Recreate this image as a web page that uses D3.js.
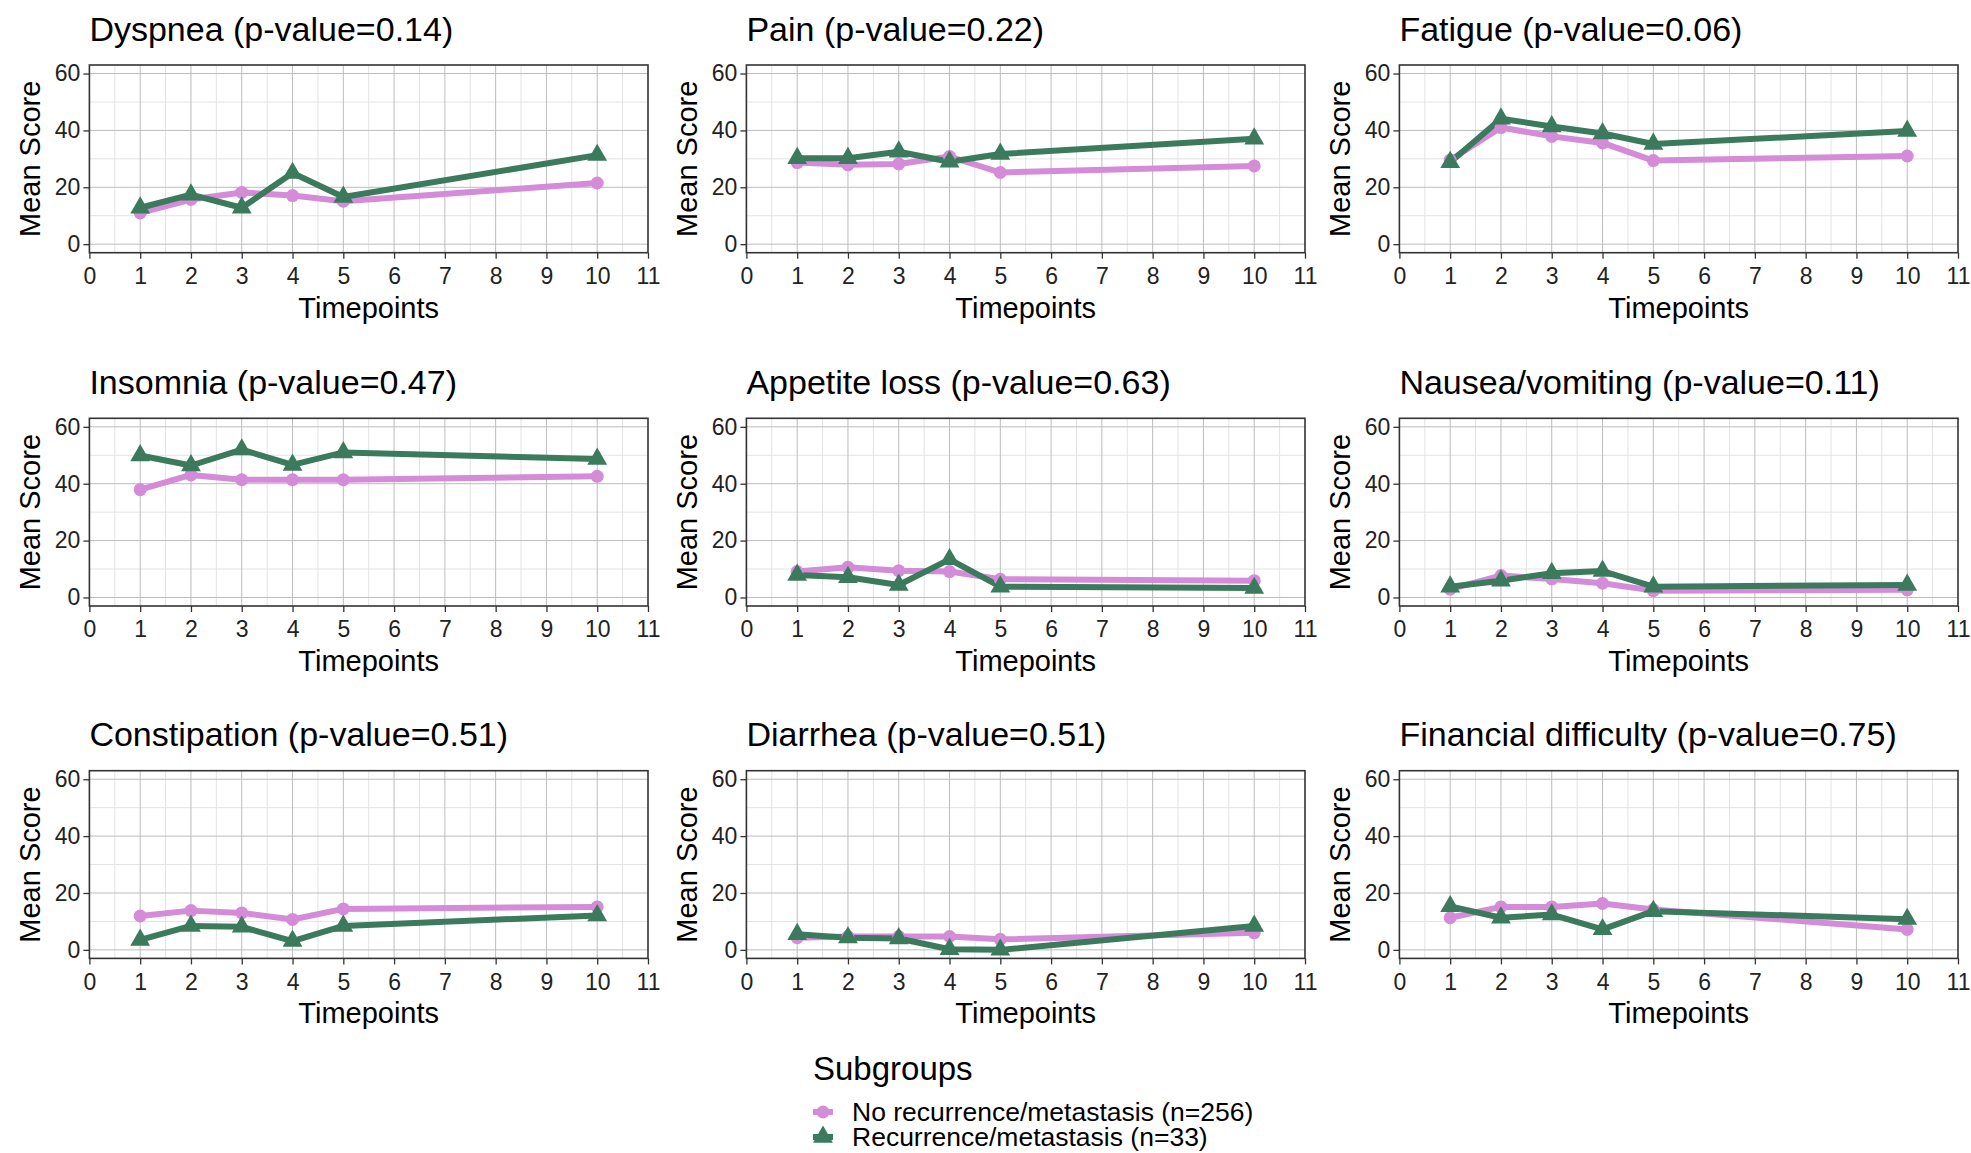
<!DOCTYPE html>
<html>
<head>
<meta charset="utf-8">
<script src="https://cdn.jsdelivr.net/npm/d3@7"></script>
<style>
  body { margin: 0; background: #fff; }
  text { font-family: "Liberation Sans", Arial, sans-serif; }
</style>
</head>
<body>
<div id="chart"></div>
<script>

// timepoints and panels
var timepoints = [1, 2, 3, 4, 5, 10];
var symptoms = ["Dyspnea", "Pain", "Fatigue", "Insomnia", "Appetite loss", "Nausea/vomiting",
                "Constipation", "Diarrhea", "Financial difficulty"];
var pvalues = ["0.14", "0.22", "0.06", "0.47", "0.63", "0.11", "0.51", "0.51", "0.75"];

// mean scores, one row per symptom
var noRecurrence = [
  [11.0, 15.7, 18.2, 17.1, 15.1, 21.5],
  [28.7, 27.9, 28.2, 30.8, 25.2, 27.5],
  [29.6, 41.0, 37.9, 35.6, 29.4, 31.0],
  [37.9, 43.1, 41.4, 41.4, 41.4, 42.6],
  [9.1, 10.6, 9.4, 9.1, 6.4, 5.9],
  [2.9, 7.7, 6.5, 5.0, 2.4, 2.7],
  [11.9, 13.8, 13.0, 10.7, 14.4, 15.1],
  [4.3, 4.7, 4.7, 4.7, 3.7, 6.0],
  [11.3, 15.1, 15.1, 16.3, 14.2, 7.2]
];
var recurrence = [
  [12.8, 17.4, 12.8, 25.0, 16.6, 31.3],
  [30.2, 30.2, 32.5, 29.0, 31.7, 37.1],
  [28.8, 44.1, 41.4, 38.9, 35.2, 39.8],
  [49.9, 46.4, 52.0, 46.6, 51.0, 48.7],
  [7.9, 7.1, 4.4, 13.4, 3.8, 3.3],
  [3.8, 5.9, 8.5, 9.3, 3.8, 4.4],
  [3.5, 8.4, 8.1, 3.1, 8.4, 12.1],
  [5.5, 4.3, 4.0, 0.2, 0.0, 8.4],
  [15.3, 11.3, 12.4, 7.2, 13.6, 10.8]
];

var groupNames = ["No recurrence/metastasis (n=256)", "Recurrence/metastasis (n=33)"];
var groupColors = ["#d48bd8", "#3b7a5d"];

var W = 1971, H = 1153;
var colLeft = [89.4, 746.4, 1399.4];
var rowTop = [65, 418.3, 770.7];
var pw = 558.6, ph = 187.7;

var svg = d3.select("#chart")
  .append("svg")
    .attr("width", W)
    .attr("height", H);

var x = d3.scaleLinear().domain([0, 11]).range([0, pw]);
var y = d3.scaleLinear().domain([-3, 63]).range([ph, 0]);

var line = d3.line()
  .x(d => x(d[0]))
  .y(d => y(d[1]));

var triangle = d3.symbol().type(d3.symbolTriangle).size(170);

symptoms.forEach(function(name, i) {
  var g = svg.append("g")
    .attr("transform", "translate(" + colLeft[i % 3] + "," + rowTop[Math.floor(i / 3)] + ")");

  // title
  g.append("text")
    .attr("x", 0)
    .attr("y", -24.5)
    .style("font-size", "34px")
    .style("fill", "#000")
    .text(name + " (p-value=" + pvalues[i] + ")");

  // minor grid
  g.append("g").selectAll("line")
    .data(d3.range(0.5, 11, 1))
    .enter().append("line")
      .attr("x1", d => x(d)).attr("x2", d => x(d))
      .attr("y1", 0).attr("y2", ph)
      .style("stroke", "#e3e3e3").style("stroke-width", 1);
  g.append("g").selectAll("line")
    .data([10, 30, 50])
    .enter().append("line")
      .attr("x1", 0).attr("x2", pw)
      .attr("y1", d => y(d)).attr("y2", d => y(d))
      .style("stroke", "#e3e3e3").style("stroke-width", 1);

  // major grid
  g.append("g").selectAll("line")
    .data(d3.range(1, 11))
    .enter().append("line")
      .attr("x1", d => x(d)).attr("x2", d => x(d))
      .attr("y1", 0).attr("y2", ph)
      .style("stroke", "#bcbcbc").style("stroke-width", 1);
  g.append("g").selectAll("line")
    .data([0, 20, 40, 60])
    .enter().append("line")
      .attr("x1", 0).attr("x2", pw)
      .attr("y1", d => y(d)).attr("y2", d => y(d))
      .style("stroke", "#bcbcbc").style("stroke-width", 1);

  // axes
  var xAxis = g.append("g")
    .attr("transform", "translate(0," + ph + ")")
    .call(d3.axisBottom(x).tickValues(d3.range(0, 12)).tickSize(6).tickPadding(9));
  var yAxis = g.append("g")
    .call(d3.axisLeft(y).tickValues([0, 20, 40, 60]).tickSize(6).tickPadding(3));
  [xAxis, yAxis].forEach(function(a) {
    a.select(".domain").remove();
    a.selectAll(".tick line").style("stroke", "#333").style("stroke-width", 1.3);
    a.selectAll(".tick text")
      .style("font-family", "'Liberation Sans', Arial, sans-serif")
      .style("font-size", "23px")
      .style("fill", "#222");
  });

  // panel border
  g.append("rect")
    .attr("width", pw).attr("height", ph)
    .style("fill", "none")
    .style("stroke", "#333")
    .style("stroke-width", 1.6);

  // axis titles
  g.append("text")
    .attr("x", pw / 2)
    .attr("y", ph + 65)
    .attr("text-anchor", "middle")
    .style("font-size", "29px")
    .text("Timepoints");
  g.append("text")
    .attr("transform", "translate(-49.5," + (ph / 2) + ") rotate(-90)")
    .attr("text-anchor", "middle")
    .style("font-size", "29px")
    .text("Mean Score");

  var series = [noRecurrence[i], recurrence[i]].map(v => timepoints.map((t, k) => [t, v[k]]));

  // lines
  g.selectAll(".series")
    .data(series)
    .enter().append("path")
      .attr("d", line)
      .style("fill", "none")
      .style("stroke", (d, k) => groupColors[k])
      .style("stroke-width", 6)
      .style("stroke-linejoin", "round");

  // points
  g.selectAll(".pt0")
    .data(series[0])
    .enter().append("circle")
      .attr("cx", d => x(d[0]))
      .attr("cy", d => y(d[1]))
      .attr("r", 6.5)
      .style("fill", groupColors[0]);
  g.selectAll(".pt1")
    .data(series[1])
    .enter().append("path")
      .attr("d", triangle)
      .attr("transform", d => "translate(" + x(d[0]) + "," + y(d[1]) + ")")
      .style("fill", groupColors[1]);
});

// legend
var legend = svg.append("g");
legend.append("text")
  .attr("x", 813)
  .attr("y", 1080)
  .style("font-size", "33px")
  .text("Subgroups");

var itemY = [1112, 1137];
groupNames.forEach(function(name, k) {
  legend.append("line")
    .attr("x1", 813).attr("x2", 833)
    .attr("y1", itemY[k]).attr("y2", itemY[k])
    .style("stroke", groupColors[k])
    .style("stroke-width", 6);
  if (k == 0) {
    legend.append("circle")
      .attr("cx", 823).attr("cy", itemY[k]).attr("r", 6.5)
      .style("fill", groupColors[k]);
  } else {
    legend.append("path")
      .attr("d", triangle)
      .attr("transform", "translate(823," + itemY[k] + ")")
      .style("fill", groupColors[k]);
  }
  legend.append("text")
    .attr("x", 852)
    .attr("y", itemY[k] + 9)
    .style("font-size", "26.5px")
    .text(name);
});

</script>
</body>
</html>
